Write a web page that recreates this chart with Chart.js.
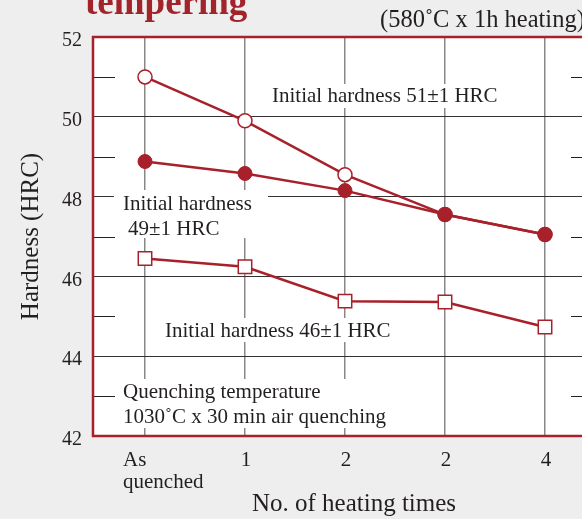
<!DOCTYPE html>
<html>
<head>
<meta charset="utf-8">
<script src="https://cdn.jsdelivr.net/npm/chart.js@4"></script>
<style>
    html, body { margin: 0; padding: 0; background: #eeeeee; overflow: hidden; }
    #wrap { width: 582px; height: 519px; position: relative; }
</style>
</head>
<body>
<div id="wrap"><canvas id="chart" width="582" height="519"></canvas></div>
<script>
// Data
const categories = ['As\nquenched', '1', '2', '2', '4'];
const yTicks = [42, 44, 46, 48, 50, 52];
const minorTicks = [43, 45, 47, 49, 51];
const hardness51 = [51.0, 49.9, 48.55, 47.55, 47.05];
const hardness49 = [48.88, 48.58, 48.15, 47.55, 47.05];
const hardness46 = [46.45, 46.24, 45.38, 45.36, 44.73];

const RED = '#a8202a';
const TEXT = '#231f20';
const SERIF = '"Liberation Serif", "DejaVu Serif", serif';

function toPoints(values) {
    return values.map((v, i) => ({ x: i, y: v }));
}

// Text blocks inside the plot: white box, then [text, left, baseline]
const notes = [
    { box: [266, 84, 242, 24], lines: [['Initial hardness 51±1 HRC', 272, 102]] },
    { box: [114, 190, 154, 48], lines: [['Initial hardness', 123, 210], ['49±1 HRC', 128, 235]] },
    { box: [158, 318, 242, 24], lines: [['Initial hardness 46±1 HRC', 165, 337]] },
    { box: [116, 379, 279, 49], lines: [['Quenching temperature', 123, 398], ['1030˚C x 30 min air quenching', 123, 423]] }
];

const decorations = {
    id: 'decorations',
    beforeDatasetsDraw(chart) {
        const ctx = chart.ctx;
        ctx.save();
        ctx.font = '21px ' + SERIF;
        ctx.textBaseline = 'alphabetic';
        ctx.textAlign = 'left';
        notes.forEach(n => {
            ctx.fillStyle = '#ffffff';
            ctx.fillRect(n.box[0], n.box[1], n.box[2], n.box[3]);
            ctx.fillStyle = TEXT;
            n.lines.forEach(l => ctx.fillText(l[0], l[1], l[2]));
        });
        ctx.restore();
    },
    afterDraw(chart) {
        const ctx = chart.ctx;
        const area = chart.chartArea;
        const x = chart.scales.x;
        const y = chart.scales.y;
        ctx.save();

        // minor ticks on both sides
        ctx.strokeStyle = '#222';
        ctx.lineWidth = 1;
        minorTicks.forEach(v => {
            const py = Math.round(y.getPixelForValue(v)) + 0.5;
            ctx.beginPath();
            ctx.moveTo(area.left, py);
            ctx.lineTo(area.left + 22, py);
            ctx.moveTo(area.right - 11, py);
            ctx.lineTo(area.right, py);
            ctx.stroke();
        });

        // red frame
        ctx.strokeStyle = RED;
        ctx.lineWidth = 2.5;
        ctx.beginPath();
        ctx.moveTo(area.right + 2, area.top);
        ctx.lineTo(area.left, area.top);
        ctx.lineTo(area.left, area.bottom);
        ctx.lineTo(area.right + 2, area.bottom);
        ctx.stroke();

        // x tick labels
        ctx.fillStyle = TEXT;
        ctx.font = '21px ' + SERIF;
        ctx.textBaseline = 'alphabetic';
        categories.forEach((c, i) => {
            const px = x.getPixelForValue(i);
            const lines = c.split('\n');
            if (lines.length > 1) {
                ctx.textAlign = 'left';
                lines.forEach((l, j) => ctx.fillText(l, px - 22, 466 + j * 22));
            } else {
                ctx.textAlign = 'center';
                ctx.fillText(c, px + 1, 466);
            }
        });

        // x axis title
        ctx.textAlign = 'center';
        ctx.font = '25px ' + SERIF;
        ctx.fillText('No. of heating times', 354, 511);

        // headings at the top
        ctx.textAlign = 'left';
        ctx.fillStyle = '#a3232b';
        ctx.font = 'bold 37px ' + SERIF;
        ctx.fillText('tempering', 85, 14);
        ctx.fillStyle = TEXT;
        ctx.font = '24.5px ' + SERIF;
        ctx.fillText('(580˚C x 1h heating)', 380, 27);
        ctx.restore();
    }
};

const plotBackground = {
    id: 'plotBackground',
    beforeDraw(chart) {
        const { ctx, chartArea } = chart;
        ctx.save();
        ctx.fillStyle = '#eeeeee';
        ctx.fillRect(0, 0, chart.width, chart.height);
        ctx.fillStyle = '#ffffff';
        ctx.fillRect(chartArea.left, chartArea.top, chartArea.width, chartArea.height);
        ctx.restore();
    }
};

const ctx = document.getElementById('chart').getContext('2d');
new Chart(ctx, {
    type: 'line',
    data: {
        datasets: [
            {
                label: 'Initial hardness 49±1 HRC',
                data: toPoints(hardness49),
                borderColor: RED,
                borderWidth: 2.5,
                pointStyle: 'circle',
                pointRadius: 7,
                pointBackgroundColor: RED,
                pointBorderColor: RED,
                pointBorderWidth: 1
            },
            {
                label: 'Initial hardness 51±1 HRC',
                data: toPoints(hardness51),
                borderColor: RED,
                borderWidth: 2.5,
                pointStyle: 'circle',
                pointRadius: 7,
                pointBackgroundColor: '#ffffff',
                pointBorderColor: RED,
                pointBorderWidth: 1.5
            },
            {
                label: 'Initial hardness 46±1 HRC',
                data: toPoints(hardness46),
                borderColor: RED,
                borderWidth: 2.5,
                pointStyle: 'rect',
                pointRadius: 9.5,
                pointBackgroundColor: '#ffffff',
                pointBorderColor: RED,
                pointBorderWidth: 1.5
            }
        ]
    },
    options: {
        responsive: false,
        animation: false,
        layout: { autoPadding: false, padding: { top: 37, right: 0, left: 0, bottom: 0 } },
        plugins: {
            legend: { display: false },
            tooltip: { enabled: false }
        },
        scales: {
            x: {
                type: 'linear',
                min: -0.52,
                max: 4.37,
                afterBuildTicks(scale) {
                    scale.ticks = categories.map((c, i) => ({ value: i }));
                },
                afterFit(scale) {
                    scale.height = 83;
                    scale.paddingLeft = 0;
                    scale.paddingRight = 0;
                },
                ticks: { display: false },
                border: { display: false },
                grid: { color: '#8c8787', lineWidth: 1.5, drawTicks: false }
            },
            y: {
                min: 42,
                max: 52,
                afterBuildTicks(scale) {
                    scale.ticks = yTicks.map(v => ({ value: v }));
                },
                afterFit(scale) { scale.width = 93; },
                ticks: {
                    color: TEXT,
                    padding: 11,
                    labelOffset: 4,
                    font: { family: SERIF, size: 20 }
                },
                title: {
                    display: true,
                    text: 'Hardness (HRC)',
                    color: TEXT,
                    font: { family: SERIF, size: 25 },
                    padding: { top: 16, bottom: 0 }
                },
                border: { display: false },
                grid: { color: '#333333', lineWidth: 1, drawTicks: false }
            }
        }
    },
    plugins: [plotBackground, decorations]
});
</script>
</body>
</html>
